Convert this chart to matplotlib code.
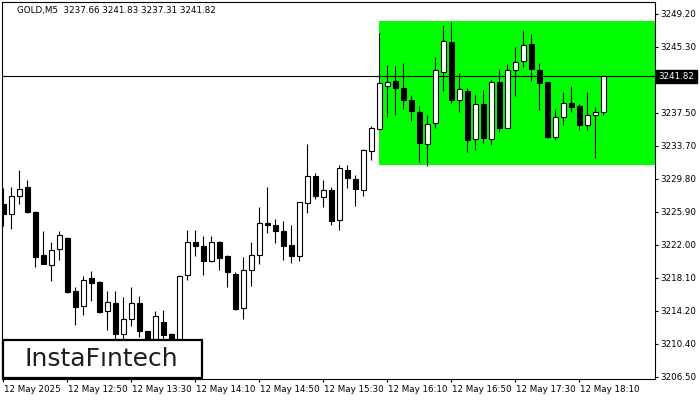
import matplotlib
matplotlib.use('Agg')
import matplotlib.pyplot as plt
from matplotlib.patches import Rectangle
import matplotlib.transforms as mtransforms

# ---- data ----
opens = [3226.85, 3225.67, 3227.79, 3228.85, 3225.91, 3220.82, 3219.64, 3221.52, 3222.77, 3216.62,
         3214.77, 3218.06, 3217.68, 3214.18, 3215.17, 3211.52, 3213.29, 3215.17, 3211.83, 3210.90,
         3212.97, 3211.52, 3210.00, 3218.46, 3222.30, 3221.91, 3220.15, 3222.38, 3220.73, 3218.58,
         3214.58, 3219.05, 3220.82, 3224.58, 3224.34, 3223.67, 3222.03, 3220.65, 3226.93, 3230.14,
         3227.59, 3228.46, 3224.93, 3230.81, 3229.76, 3228.46, 3233.08, 3235.64, 3240.65, 3241.32,
         3240.46, 3239.08, 3237.67, 3233.87, 3236.34, 3242.30, 3245.91, 3239.08, 3240.14, 3234.46,
         3238.58, 3234.46, 3241.12, 3235.75, 3242.58, 3243.59, 3245.64, 3242.58, 3241.12, 3234.65,
         3237.00, 3238.70, 3238.38, 3236.11, 3237.28, 3237.66]
highs = [3228.73, 3228.85, 3230.85, 3229.64, 3226.00, 3223.67, 3222.38, 3223.67, 3222.89, 3217.00,
         3218.38, 3218.97, 3217.80, 3216.62, 3216.62, 3215.83, 3217.09, 3216.03, 3211.91, 3214.26,
         3214.38, 3211.67, 3218.50, 3223.76, 3223.76, 3223.09, 3223.09, 3222.45, 3220.80, 3218.85,
         3220.53, 3222.38, 3226.50, 3228.85, 3225.05, 3224.77, 3224.38, 3227.09, 3233.87, 3230.46,
         3229.64, 3228.85, 3231.44, 3231.44, 3230.26, 3233.29, 3236.03, 3246.93, 3243.20, 3243.08,
         3243.35, 3239.67, 3238.38, 3237.32, 3244.14, 3247.91, 3248.26, 3242.22, 3240.46, 3239.75,
         3240.26, 3241.44, 3242.70, 3243.28, 3245.32, 3247.32, 3246.81, 3243.40, 3241.20, 3237.99,
         3239.94, 3240.73, 3238.58, 3239.94, 3238.18, 3241.83]
lows = [3224.26, 3223.91, 3226.85, 3225.76, 3219.44, 3219.70, 3217.71, 3220.23, 3216.30, 3212.58,
        3213.79, 3215.44, 3213.95, 3211.99, 3210.60, 3210.50, 3212.50, 3211.12, 3209.80, 3210.20,
        3210.40, 3209.60, 3209.60, 3217.88, 3220.73, 3218.50, 3219.95, 3219.09, 3217.09, 3214.40,
        3213.29, 3217.12, 3219.76, 3223.36, 3222.18, 3220.26, 3219.83, 3220.15, 3225.71, 3227.40,
        3226.42, 3224.38, 3223.76, 3228.65, 3226.53, 3227.71, 3232.03, 3235.55, 3237.00, 3237.32,
        3237.99, 3236.61, 3231.79, 3231.24, 3235.71, 3240.14, 3238.65, 3237.59, 3232.88, 3233.20,
        3233.94, 3233.79, 3235.24, 3235.70, 3239.47, 3242.88, 3241.32, 3237.87, 3234.60, 3234.38,
        3236.14, 3237.59, 3235.52, 3235.52, 3232.23, 3237.31]
closes = [3225.67, 3227.79, 3228.61, 3225.83, 3220.53, 3219.76, 3221.40, 3223.17, 3216.42, 3214.65,
          3217.91, 3217.48, 3214.06, 3215.32, 3211.52, 3213.29, 3215.17, 3211.83, 3210.60, 3213.68,
          3211.44, 3210.20, 3218.38, 3222.38, 3221.83, 3220.15, 3222.38, 3220.42, 3218.77, 3214.46,
          3219.05, 3220.82, 3224.58, 3224.30, 3223.59, 3221.83, 3220.73, 3227.00, 3230.14, 3227.71,
          3228.46, 3224.77, 3231.05, 3229.83, 3228.58, 3233.17, 3235.75, 3241.05, 3241.20, 3240.41,
          3239.08, 3237.71, 3233.94, 3236.23, 3242.58, 3246.02, 3239.08, 3240.34, 3234.38, 3238.58,
          3234.53, 3241.20, 3235.71, 3242.58, 3243.55, 3245.55, 3242.70, 3241.00, 3234.65, 3237.08,
          3238.70, 3238.18, 3236.11, 3237.28, 3237.67, 3241.82]

time_tick_index = [0, 8, 16, 24, 32, 40, 48, 56, 64, 72]
time_tick_labels = ['12 May 2025', '12 May 12:50', '12 May 13:30', '12 May 14:10', '12 May 14:50',
                    '12 May 15:30', '12 May 16:10', '12 May 16:50', '12 May 17:30', '12 May 18:10']
price_ticks = [3249.20, 3245.32, 3241.44, 3237.56, 3233.67, 3229.79, 3225.91, 3222.03,
               3218.15, 3214.26, 3210.38, 3206.50]
# the 3241.x label is hidden behind the last-price marker in the reference
price_tick_labels = ['3249.20', '3245.30', '', '3237.50', '3233.70', '3229.80', '3225.90',
                     '3222.00', '3218.10', '3214.20', '3210.40', '3206.50']
last_price = 3241.82
header = 'GOLD,M5  3237.66 3241.83 3237.31 3241.82'
logo_text = 'InstaFıntech'
zone_start = 47
zone_low = 3231.44
zone_high = 3248.38

# ---- figure ----
W, H = 700, 400
fig = plt.figure(figsize=(7, 4), dpi=100)
fig.patch.set_facecolor('white')
ax = fig.add_axes([2 / W, 21 / H, 653 / W, 377 / H])
ax.set_facecolor('white')
xmax = 81.46
ax.set_xlim(-0.1625, xmax)
ax.set_ylim(3206.23, 3250.58)

ax.add_patch(Rectangle((zone_start, zone_low), xmax - zone_start + 1, zone_high - zone_low,
                       facecolor='#00ff00', edgecolor='none', zorder=0))

ax.axhline(last_price, color='black', lw=0.8, zorder=1.5)

xs = list(range(len(opens)))
ax.vlines(xs, lows, highs, color='black', lw=0.8, zorder=2)
bottoms = [min(o, c) for o, c in zip(opens, closes)]
heights = [max(abs(c - o), 0.05) for o, c in zip(opens, closes)]
colors = ['white' if c >= o else 'black' for o, c in zip(opens, closes)]
ax.bar(xs, heights, bottom=bottoms, width=0.55, color=colors, edgecolor='black',
       linewidth=0.8, zorder=3)

for s in ax.spines.values():
    s.set_color('black')
    s.set_linewidth(0.8)

ax.set_xticks(time_tick_index)
ax.set_xticklabels(time_tick_labels, ha='left')
ax.tick_params(axis='x', direction='out', length=2.5, width=0.8, pad=1.5,
               labelsize=6.3, colors='black')
for lbl in ax.get_xticklabels():
    lbl.set_transform(lbl.get_transform() + mtransforms.ScaledTranslation(1 / 100, 0, fig.dpi_scale_trans))

ax.yaxis.tick_right()
ax.set_yticks(price_ticks)
ax.set_yticklabels(price_tick_labels)
ax.tick_params(axis='y', direction='out', length=2.5, width=0.8, pad=1.2,
               labelsize=6.3, colors='black')

fig.text(17.3 / W, 1 - 11 / H, header, ha='left', va='center', fontsize=6.3, color='black')

trans = mtransforms.blended_transform_factory(ax.transAxes, ax.transData) + \
    mtransforms.ScaledTranslation(3.5 / 100, 0, fig.dpi_scale_trans)
ax.text(1.0, last_price, f'{last_price:.2f}', transform=trans, ha='left', va='center',
        fontsize=6.3, color='white', clip_on=False, zorder=10,
        bbox=dict(boxstyle='square,pad=0.25', facecolor='black', edgecolor='black'))

fig.add_artist(Rectangle((2.7 / W, (H - 378.3) / H), 199 / W, 38.3 / H, transform=fig.transFigure,
                         facecolor='white', edgecolor='black', linewidth=1.6, zorder=20))
fig.text(101.5 / W, (H - 359.5) / H, logo_text, ha='center', va='center', fontsize=18,
         family='DejaVu Sans', color='#1e1e1e', zorder=21)

fig.savefig('out.png', dpi=100)
